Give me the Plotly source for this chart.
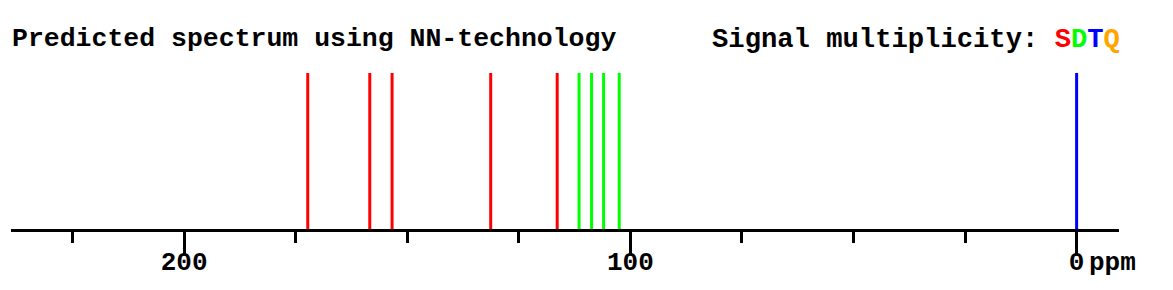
import plotly.graph_objects as go

# Data: chemical shifts (ppm) by multiplicity
singlet_ppm = [172.3, 158.4, 153.4, 131.3, 116.4]
doublet_ppm = [111.5, 108.7, 106.0, 102.5]
triplet_ppm = [0.0]
quartet_ppm = []
tick_vals = [200, 100, 0]
tick_text = ["200", "100", "0"]

FONT = "Courier New, Liberation Mono, monospace"

def sticks(vals):
    xs, ys = [], []
    for v in vals:
        xs += [v, v, None]
        ys += [0, 1, None]
    return xs, ys

fig = go.Figure()
for vals, col in [(singlet_ppm, "#ff0000"), (doublet_ppm, "#00ff00"),
                  (triplet_ppm, "#0000ff"), (quartet_ppm, "#ffa500")]:
    if not vals:
        continue
    xs, ys = sticks(vals)
    fig.add_trace(go.Scatter(x=xs, y=ys, mode="lines",
                             line=dict(color=col, width=3),
                             hoverinfo="skip", showlegend=False))

W, H = 1173, 290
L, R, T, B = 11, 54, 73, 61
fig.update_layout(
    width=W, height=H,
    margin=dict(l=L, r=R, t=T, b=B, pad=0, autoexpand=False),
    paper_bgcolor="white", plot_bgcolor="white",
    showlegend=False,
    xaxis=dict(range=[238.8, -9.5], showgrid=False, zeroline=False,
               automargin=False,
               showline=True, linecolor="black", linewidth=3,
               ticks="outside", ticklen=22, tickwidth=3, tickcolor="black",
               ticklabelstandoff=-15,
               tickmode="array", tickvals=tick_vals, ticktext=tick_text,
               tickfont=dict(family=FONT, size=26, color="black", weight="bold"),
               minor=dict(ticks="outside", ticklen=11, tickwidth=3,
                          tickcolor="black", dtick=25, tick0=0, showgrid=False),
               fixedrange=True),
    yaxis=dict(range=[0, 1], visible=False, fixedrange=True, automargin=False),
)

plot_w = W - L - R
plot_h = H - T - B
def px_x(p):
    return (p - L) / plot_w
def px_y(p):
    return (H - B - p) / plot_h

fig.add_annotation(xref="paper", yref="paper", x=px_x(10), y=px_y(39),
                   xanchor="left", yanchor="middle", showarrow=False,
                   text="Predicted spectrum using NN-technology",
                   font=dict(family=FONT, size=26.5, color="black", weight="bold"))
fig.add_annotation(xref="paper", yref="paper", x=px_x(710), y=px_y(39),
                   xanchor="left", yanchor="middle", showarrow=False,
                   text=("Signal multiplicity: "
                         "<span style='color:#ff0000'>S</span>"
                         "<span style='color:#00ff00'>D</span>"
                         "<span style='color:#0000ff'>T</span>"
                         "<span style='color:#ffa500'>Q</span>"),
                   font=dict(family=FONT, size=27.2, color="black", weight="bold"))
fig.add_annotation(xref="x", yref="paper", x=0, y=px_y(263),
                   xanchor="left", yanchor="middle", showarrow=False,
                   xshift=10,
                   text="ppm",
                   font=dict(family=FONT, size=26, color="black", weight="bold"))

fig.write_html("out.html", config={"displayModeBar": False})
